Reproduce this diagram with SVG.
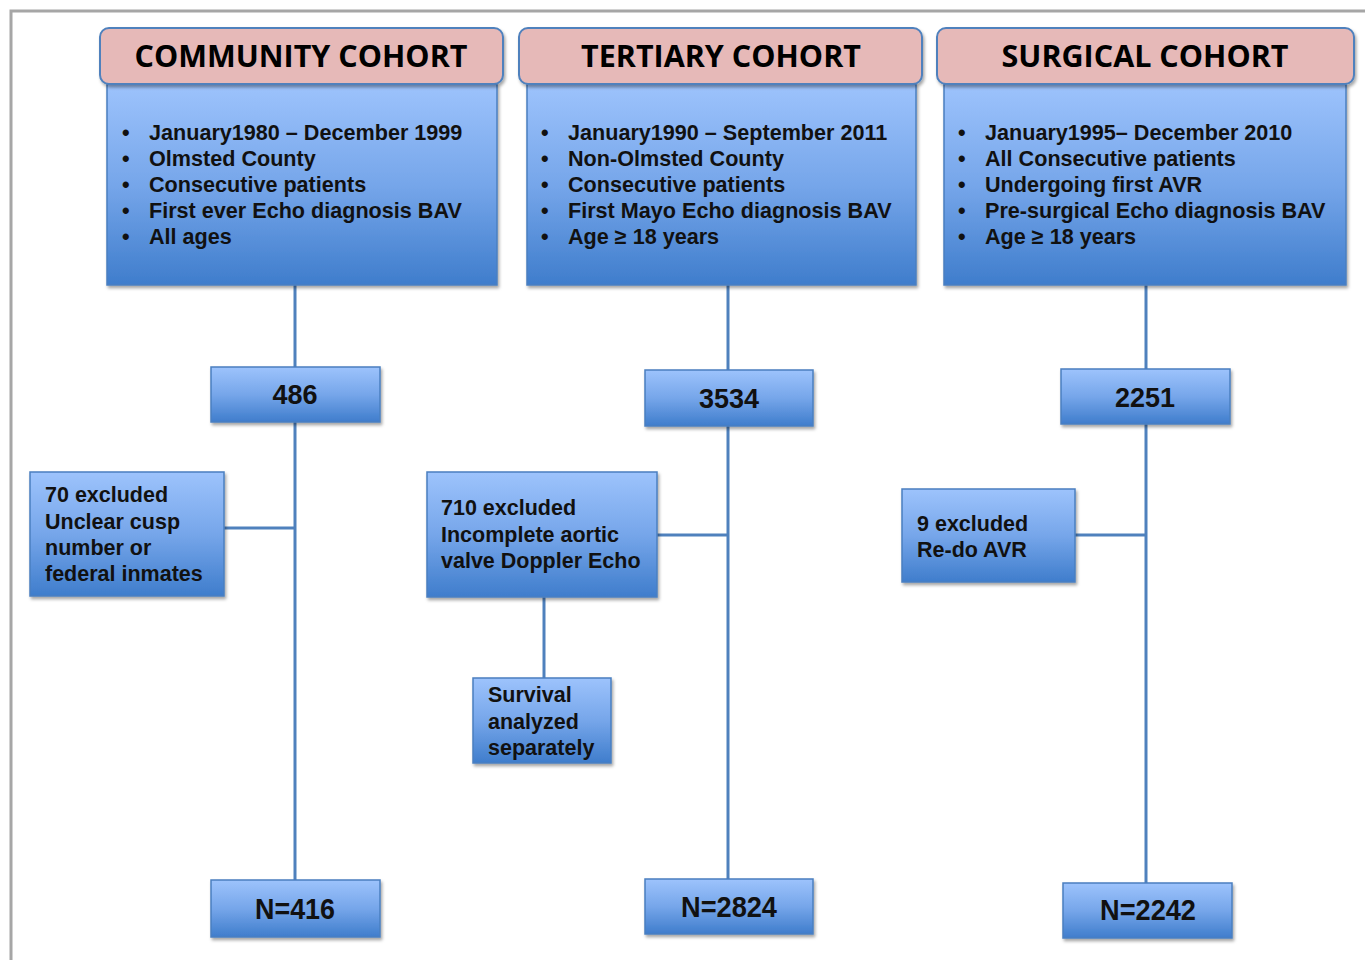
<svg xmlns="http://www.w3.org/2000/svg" width="1365" height="960" viewBox="0 0 1365 960">
<defs>
<linearGradient id="blue" x1="0" y1="0" x2="0" y2="1">
<stop offset="0" stop-color="#9dc3fc"/>
<stop offset="0.5" stop-color="#76a6ea"/>
<stop offset="1" stop-color="#3f7dcc"/>
</linearGradient>
<filter id="sh" x="-10%" y="-10%" width="130%" height="130%">
<feDropShadow dx="1.5" dy="2.5" stdDeviation="1.5" flood-color="#000" flood-opacity="0.35"/>
</filter>
<style>
.hdr{fill:#e6b9b8;stroke:#4f81bd;stroke-width:2;filter:url(#sh)}
.box{fill:url(#blue);stroke:#4a7fc0;stroke-width:1.5;filter:url(#sh)}
.ht{font-family:"Open Sans","Liberation Sans",sans-serif;font-weight:bold;font-size:30.5px;fill:#000;text-anchor:middle}
.bt{font-family:"Liberation Sans",Arial,sans-serif;font-weight:bold;font-size:21.6px;fill:#111}
.st{font-family:"Liberation Sans",Arial,sans-serif;font-weight:bold;font-size:21.5px;fill:#111}
.nt{font-family:"Liberation Sans",Arial,sans-serif;font-weight:bold;font-size:27px;fill:#111;text-anchor:middle}
.ft{font-family:"Liberation Sans",Arial,sans-serif;font-weight:bold;font-size:29px;fill:#111;text-anchor:middle}
.ln{stroke:#4f81bd;stroke-width:3;fill:none}
.fr{stroke:#a6a6a6;stroke-width:3;fill:none}
</style>
</defs>
<rect width="1365" height="960" fill="#fff"/>
<path class="fr" d="M11,960 V11 H1365"/>

<g id="connectors">
<path class="ln" d="M295,285 V880"/>
<path class="ln" d="M224,528 H295"/>
<path class="ln" d="M728,285 V879"/>
<path class="ln" d="M657,535 H728"/>
<path class="ln" d="M544,597 V678"/>
<path class="ln" d="M1146,285 V883"/>
<path class="ln" d="M1075,535 H1146"/>
</g>

<g id="community">
<rect class="box" x="107" y="84" width="390" height="201"/>
<rect class="hdr" x="100" y="28" width="403" height="56" rx="9"/>
<text class="ht" x="301" y="67">COMMUNITY COHORT</text>
<g class="bt">
<text x="122" y="140">•</text><text x="149" y="140">January1980 – December 1999</text>
<text x="122" y="166">•</text><text x="149" y="166">Olmsted County</text>
<text x="122" y="192">•</text><text x="149" y="192">Consecutive patients</text>
<text x="122" y="218">•</text><text x="149" y="218">First ever Echo diagnosis BAV</text>
<text x="122" y="244">•</text><text x="149" y="244">All ages</text>
</g>
</g>

<g id="tertiary">
<rect class="box" x="527" y="84" width="389" height="201"/>
<rect class="hdr" x="519" y="28" width="403" height="56" rx="9"/>
<text class="ht" x="721" y="67">TERTIARY COHORT</text>
<g class="bt">
<text x="541" y="140">•</text><text x="568" y="140">January1990 – September 2011</text>
<text x="541" y="166">•</text><text x="568" y="166">Non-Olmsted County</text>
<text x="541" y="192">•</text><text x="568" y="192">Consecutive patients</text>
<text x="541" y="218">•</text><text x="568" y="218">First Mayo  Echo diagnosis BAV</text>
<text x="541" y="244">•</text><text x="568" y="244">Age ≥ 18 years</text>
</g>
</g>

<g id="surgical">
<rect class="box" x="944" y="84" width="402" height="201"/>
<rect class="hdr" x="937" y="28" width="417" height="56" rx="9"/>
<text class="ht" x="1145" y="67">SURGICAL COHORT</text>
<g class="bt">
<text x="958" y="140">•</text><text x="985" y="140">January1995– December 2010</text>
<text x="958" y="166">•</text><text x="985" y="166">All Consecutive patients</text>
<text x="958" y="192">•</text><text x="985" y="192">Undergoing first AVR</text>
<text x="958" y="218">•</text><text x="985" y="218">Pre-surgical Echo diagnosis BAV</text>
<text x="958" y="244">•</text><text x="985" y="244">Age ≥ 18 years</text>
</g>
</g>

<g id="n486">
<rect class="box" x="211" y="367" width="169" height="55"/>
<text class="nt" x="295" y="404">486</text>
</g>
<g id="excl70">
<rect class="box" x="30" y="472" width="194" height="124"/>
<g class="st">
<text x="45" y="502">70 excluded</text>
<text x="45" y="529">Unclear cusp</text>
<text x="45" y="555">number or</text>
<text x="45" y="581">federal inmates</text>
</g>
</g>
<g id="n416">
<rect class="box" x="211" y="880" width="169" height="57"/>
<text class="ft" x="295" y="919" textLength="80" lengthAdjust="spacingAndGlyphs">N=416</text>
</g>

<g id="n3534">
<rect class="box" x="645" y="370" width="168" height="56"/>
<text class="nt" x="729" y="408">3534</text>
</g>
<g id="excl710">
<rect class="box" x="427" y="472" width="230" height="125"/>
<g class="st">
<text x="441" y="515">710 excluded</text>
<text x="441" y="542">Incomplete aortic</text>
<text x="441" y="568">valve Doppler Echo</text>
</g>
</g>
<g id="survival">
<rect class="box" x="473" y="678" width="138" height="85"/>
<g class="st">
<text x="488" y="702">Survival</text>
<text x="488" y="729">analyzed</text>
<text x="488" y="755">separately</text>
</g>
</g>
<g id="n2824">
<rect class="box" x="645" y="879" width="168" height="55"/>
<text class="ft" x="729" y="917" textLength="96" lengthAdjust="spacingAndGlyphs">N=2824</text>
</g>

<g id="n2251">
<rect class="box" x="1061" y="369" width="169" height="55"/>
<text class="nt" x="1145" y="407">2251</text>
</g>
<g id="excl9">
<rect class="box" x="902" y="489" width="173" height="93"/>
<g class="st">
<text x="917" y="531">9 excluded</text>
<text x="917" y="557">Re-do AVR</text>
</g>
</g>
<g id="n2242">
<rect class="box" x="1063" y="883" width="169" height="55"/>
<text class="ft" x="1148" y="920" textLength="96" lengthAdjust="spacingAndGlyphs">N=2242</text>
</g>
</svg>
